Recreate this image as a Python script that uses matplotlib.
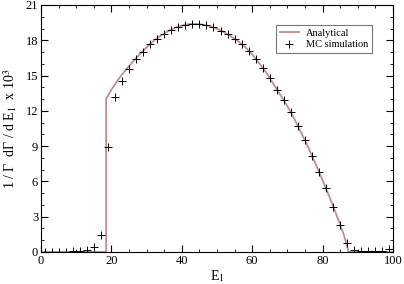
import numpy as np
import matplotlib.pyplot as plt
from matplotlib.ticker import MultipleLocator

plt.rcParams['font.family'] = ['Liberation Serif', 'DejaVu Serif']
plt.rcParams['mathtext.fontset'] = 'stix'

# Analytical curve (E1, 1/Gamma dGamma/dE1 x 10^3)
ana_e = [0, 18.5, 18.5, 20, 22, 24, 26, 28, 30, 32, 34, 36, 38, 40, 42, 44,
         46, 48, 50, 52, 54, 56, 58, 60, 62, 64, 66, 68, 70, 72, 74, 76, 78,
         80, 82, 84, 86, 87.4, 100]
ana_y = [0, 0, 13.0, 13.8, 14.7, 15.45, 16.15, 16.8, 17.4, 17.95, 18.4, 18.75,
         19.05, 19.25, 19.38, 19.4, 19.33, 19.2, 18.98, 18.68, 18.33, 17.92,
         17.42, 16.8, 16.05, 15.25, 14.3, 13.35, 12.4, 11.3, 10.1, 8.85, 7.5,
         6.1, 4.65, 3.1, 1.5, 0, 0]

# MC simulation points
mc_e = list(range(1, 100, 2))
mc_y = [0, 0, 0, 0, 0.05, 0.1, 0.15, 0.4, 1.45, 8.9,
        13.2, 14.55, 15.6, 16.4, 17.0, 17.65, 18.1, 18.5, 18.85, 19.1,
        19.3, 19.4, 19.35, 19.28, 19.1, 18.8, 18.5, 18.15, 17.7, 17.1,
        16.4, 15.65, 14.8, 13.8, 12.9, 11.9, 10.7, 9.5, 8.2, 6.8,
        5.4, 3.85, 2.27, 0.74, 0.15, 0.08, 0.05, 0.05, 0.05, 0.25]

fig = plt.figure(figsize=(4.04, 2.84), dpi=100)
ax = fig.add_axes([0.1015, 0.1127, 0.8713, 0.8697])

ax.plot(ana_e, ana_y, color='#c08e8e', lw=1.3, label='Analytical')
ax.plot(mc_e, mc_y, ls='none', marker='+', color='black', ms=6, mew=0.7,
        label='MC simulation')

ax.set_xlim(0, 100)
ax.set_ylim(0, 21)
ax.xaxis.set_major_locator(MultipleLocator(20))
ax.xaxis.set_minor_locator(MultipleLocator(5))
ax.yaxis.set_major_locator(MultipleLocator(3))
ax.yaxis.set_minor_locator(MultipleLocator(1))
ax.tick_params(which='both', direction='in', top=True, right=True,
               labelsize=9, pad=2)
ax.tick_params(which='major', length=5)
ax.tick_params(which='minor', length=2.5)

ax.set_xlabel('E$_1$', fontsize=10, labelpad=1)
ax.set_ylabel('1 / Γ  dΓ / d E$_1$  x 10$^3$', fontsize=10, labelpad=5)

leg = ax.legend(loc='upper right', bbox_to_anchor=(0.955, 0.94), fontsize=7.5,
                frameon=True, fancybox=False, edgecolor='#555555',
                handlelength=1.8, handletextpad=0.7, borderpad=0.35,
                labelspacing=0.2)
leg.get_frame().set_linewidth(0.8)

fig.savefig('out.png', dpi=100)
